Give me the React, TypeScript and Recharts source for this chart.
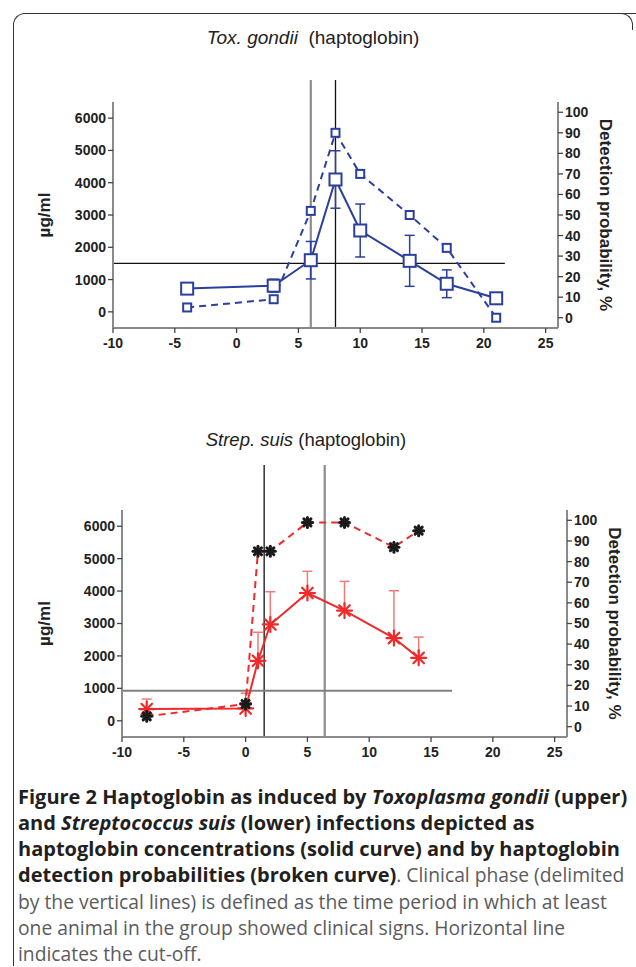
import React from 'react';
import { ComposedChart, Line, XAxis, YAxis, ReferenceLine, ErrorBar } from 'recharts';

// ---------- shared ticks ----------
const xTicks = [-10, -5, 0, 5, 10, 15, 20, 25];
const concTicks = [0, 1000, 2000, 3000, 4000, 5000, 6000];
const probTicks = [0, 10, 20, 30, 40, 50, 60, 70, 80, 90, 100];

// ---------- Toxoplasma gondii ----------
const toxDays = [-4, 3, 6, 8, 10, 14, 17, 21];
const toxConc = [720, 810, 1600, 4100, 2520, 1580, 870, 420];
const toxConcErr = [150, 200, 580, 890, 820, 790, 430, 0];
const toxProb = [5, 9, 52, 90, 70, 50, 34, 0];
const toxClinical = [6, 8];
const toxCutoff = 1500;
const toxCutoffEnd = 21.7;

// ---------- Streptococcus suis ----------
const strepDays = [-8, 0, 1, 2, 5, 8, 12, 14];
const strepConc = [360, 380, 1850, 2970, 3940, 3400, 2550, 1940];
const strepConcErrUp = [310, 470, 880, 1010, 670, 900, 1460, 640];
const strepProb = [5, 11, 85, 85, 99, 99, 87, 95];
const strepClinical = [1.5, 6.4];
const strepCutoff = 930;
const strepCutoffEnd = 16.7;

const toxData = toxDays.map((d, i) => ({ day: d, conc: toxConc[i], err: toxConcErr[i], prob: toxProb[i] }));
const strepData = strepDays.map((d, i) => ({ day: d, conc: strepConc[i], err: [0, strepConcErrUp[i]], prob: strepProb[i] }));

const BLUE = '#2b3f9e';
const RED = '#ee2a2a';
const FONT = '"Liberation Sans", Arial, sans-serif';

const squareDot = (size: number, color: string) => (props: any) => {
  const { cx, cy, index } = props;
  if (cx == null || cy == null) return <g key={`s-${index}`} />;
  return (
    <rect key={`s-${index}`} x={cx - size / 2} y={cy - size / 2} width={size} height={size}
      fill="#fff" stroke={color} strokeWidth={2} />
  );
};

const starDot = (r: number, color: string, sw: number) => (props: any) => {
  const { cx, cy, index } = props;
  if (cx == null || cy == null) return <g key={`a-${index}`} />;
  return (
    <g key={`a-${index}`}>
      {[0, 45, 90, 135].map((a) => {
        const rad = (a * Math.PI) / 180;
        const dx = r * Math.cos(rad);
        const dy = r * Math.sin(rad);
        return <line key={a} x1={cx - dx} y1={cy - dy} x2={cx + dx} y2={cy + dy} stroke={color} strokeWidth={sw} strokeLinecap="round" />;
      })}
    </g>
  );
};

const tickStyle = { fill: '#222', fontSize: 14, fontWeight: 'bold' as const, fontFamily: FONT };
const axisLineStyle = { stroke: '#8a8a8a', strokeWidth: 2 };
const tickLineStyle = { stroke: '#444', strokeWidth: 1.3 };
const labelStyle = { textAnchor: 'middle' as const, fontWeight: 'bold' as const, fontSize: 17, fill: '#222', fontFamily: FONT };

function Panel(props: {
  data: any[];
  leftW: number;
  rightW: number;
  rightLabelOffset: number;
  height: number;
  marginTop: number;
  marginBottom: number;
  clinical: number[];
  clinicalColors: string[];
  clinicalWidths: number[];
  lineTop: number;
  cutoff: number;
  cutoffEnd: number;
  cutoffColor: string;
  cutoffWidth: number;
  kind: 'tox' | 'strep';
}) {
  const p = props;
  const isTox = p.kind === 'tox';
  return (
    <ComposedChart width={636} height={p.height} data={p.data}
      margin={{ top: p.marginTop, right: 0, bottom: p.marginBottom, left: 0 }}
      style={{ fontFamily: FONT }}>
      <XAxis dataKey="day" type="number" domain={[-10, 26]} ticks={xTicks} interval={0}
        tick={tickStyle} axisLine={axisLineStyle} tickLine={tickLineStyle} tickSize={5} tickMargin={5} height={30} />
      <YAxis yAxisId="left" orientation="left" domain={[-500, 6500]} ticks={concTicks} interval={0}
        width={p.leftW} tick={tickStyle} axisLine={axisLineStyle} tickLine={tickLineStyle} tickSize={5}
        label={{ value: 'µg/ml', angle: -90, position: 'insideLeft', offset: 44, style: labelStyle }} />
      <YAxis yAxisId="right" orientation="right" domain={[-5, 105]} ticks={probTicks} interval={0}
        width={p.rightW} tick={tickStyle} axisLine={axisLineStyle} tickLine={tickLineStyle} tickSize={5}
        label={{ value: 'Detection probability, %', angle: 90, position: 'insideRight', offset: p.rightLabelOffset, style: labelStyle }} />
      {p.clinical.map((c, i) => (
        <ReferenceLine key={`v${i}`} yAxisId="left" ifOverflow="visible"
          segment={[{ x: c, y: -500 }, { x: c, y: p.lineTop }]}
          stroke={p.clinicalColors[i]} strokeWidth={p.clinicalWidths[i]} />
      ))}
      <ReferenceLine yAxisId="left" ifOverflow="visible"
        segment={[{ x: -10, y: p.cutoff }, { x: p.cutoffEnd, y: p.cutoff }]}
        stroke={p.cutoffColor} strokeWidth={p.cutoffWidth} />
      <Line yAxisId="left" dataKey="conc" isAnimationActive={false}
        stroke={isTox ? BLUE : RED} strokeWidth={2}
        dot={isTox ? squareDot(12, BLUE) : starDot(7.5, RED, 2.2)} activeDot={false}>
        <ErrorBar dataKey="err" width={5} stroke={isTox ? BLUE : '#f07a7a'} strokeWidth={1.5} direction="y" />
      </Line>
      <Line yAxisId="right" dataKey="prob" isAnimationActive={false}
        stroke={isTox ? BLUE : RED} strokeWidth={2} strokeDasharray="7 5"
        dot={isTox ? squareDot(8, BLUE) : starDot(5, '#1a1a1a', 3)} activeDot={false} />
    </ComposedChart>
  );
}

const bold = { fontWeight: 700, color: '#231f20', fontSize: 20 };
const light = { fontWeight: 400, color: '#5b5b5d', fontSize: 19.3 };

export default function App() {
  return (
    <div style={{ position: 'absolute', left: 0, top: 0, width: 636, height: 967, background: '#fff', overflow: 'hidden' }}>
      {/* frame */}
      <div style={{ position: 'absolute', left: 13, top: 13, width: 640, height: 952, borderLeft: '1.5px solid #333', borderTop: '1.5px solid #333', borderTopLeftRadius: 12 }} />
      <div style={{ position: 'absolute', left: 618, top: 13, width: 14, height: 16, borderRight: '1.5px solid #333', borderTop: '1.5px solid #333', borderTopRightRadius: 12, background: '#fff' }} />

      <div style={{ position: 'absolute', left: 0, top: 26, width: 626, textAlign: 'center', fontFamily: FONT, fontSize: 19, lineHeight: '24px', color: '#222', whiteSpace: 'pre' }}>
        <i>Tox. gondii</i>{'  (haptoglobin)'}
      </div>
      <div style={{ position: 'absolute', left: 0, top: 0 }}>
        <Panel kind="tox" data={toxData} leftW={113} rightW={78} rightLabelOffset={30} height={360} marginTop={102} marginBottom={2}
          clinical={toxClinical} clinicalColors={['#8c8c8c', '#111']} clinicalWidths={[2.2, 1.3]} lineTop={7180}
          cutoff={toxCutoff} cutoffEnd={toxCutoffEnd} cutoffColor="#111" cutoffWidth={1.3} />
      </div>

      <div style={{ position: 'absolute', left: 0, top: 428, width: 612, textAlign: 'center', fontFamily: FONT, fontSize: 18.5, lineHeight: '24px', color: '#222', whiteSpace: 'pre' }}>
        <i>Strep. suis</i>{' (haptoglobin)'}
      </div>
      <div style={{ position: 'absolute', left: 0, top: 400 }}>
        <Panel kind="strep" data={strepData} leftW={122} rightW={69} rightLabelOffset={21} height={370} marginTop={110} marginBottom={3}
          clinical={strepClinical} clinicalColors={['#111', '#8c8c8c']} clinicalWidths={[1.3, 2.2]} lineTop={7890}
          cutoff={strepCutoff} cutoffEnd={strepCutoffEnd} cutoffColor="#808080" cutoffWidth={2} />
      </div>

      <div style={{ position: 'absolute', left: 18, top: 784, fontFamily: '"Open Sans", sans-serif', lineHeight: '26px', whiteSpace: 'nowrap' }}>
        <div style={bold}>Figure 2 Haptoglobin as induced by <i>Toxoplasma gondii</i> (upper)</div>
        <div style={bold}>and <i>Streptococcus suis</i> (lower) infections depicted as</div>
        <div style={bold}>haptoglobin concentrations (solid curve) and by haptoglobin</div>
        <div><span style={bold}>detection probabilities (broken curve)</span><span style={light}>. Clinical phase (delimited</span></div>
        <div style={light}>by the vertical lines) is defined as the time period in which at least</div>
        <div style={light}>one animal in the group showed clinical signs. Horizontal line</div>
        <div style={light}>indicates the cut-off.</div>
      </div>
    </div>
  );
}
